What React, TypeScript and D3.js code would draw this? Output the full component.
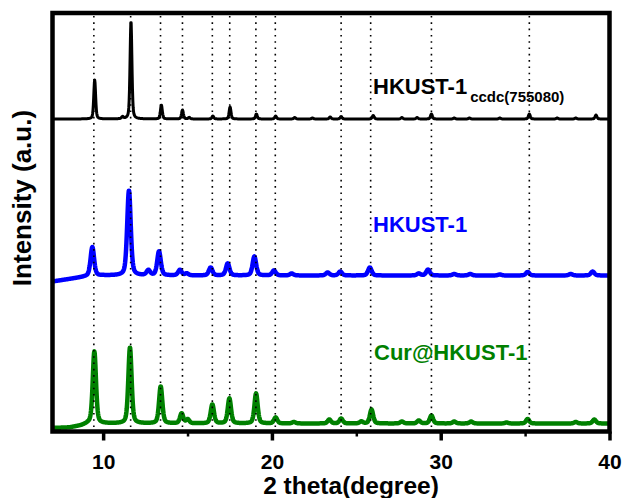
import React, { useRef, useEffect } from 'react';
import * as d3 from 'd3';

const WIDTH = 622;
const HEIGHT = 498;
const margin = { top: 13, right: 12.5, bottom: 66.5, left: 52.5 };
const FONT = 'Liberation Sans, Arial, Helvetica, sans-serif';

// 2θ of the dotted reference lines
const refLines = [9.45, 11.63, 13.4, 14.7, 16.47, 17.5, 19.05, 20.2, 24.1, 25.85, 29.45, 35.25];

const xTicks = [10, 20, 30, 40];
const xMinorTicks = [15, 25, 35];

// peaks: [2θ, height above its baseline (a.u.)]
const simPeaks = [
  [9.5, 39], [11.15, 2], [11.65, 98], [13.45, 14], [14.7, 9], [15.1, 1.5],
  [16.5, 3], [17.52, 12], [19.08, 5], [20.22, 3], [21.35, 1.5], [22.4, 1],
  [23.45, 2], [24.1, 2.5], [26.0, 3.5], [27.7, 1.5], [28.6, 1.5], [29.45, 5],
  [30.8, 1], [31.7, 1], [33.5, 1], [35.25, 5], [36.9, 1], [38.0, 1], [39.2, 4],
];

const hkustPeaks = [
  [9.36, 29], [11.53, 85], [12.68, 5], [13.31, 24], [14.55, 5.5], [14.95, 2],
  [16.37, 8], [17.38, 12], [18.96, 19], [20.12, 5], [21.17, 2], [23.3, 3],
  [24.05, 4], [25.8, 8], [28.7, 2], [29.25, 6], [30.8, 1.5], [31.75, 1.5],
  [33.5, 1], [35.15, 3.5], [37.7, 1.5], [39.0, 4],
];

const curPeaks = [
  [9.48, 72], [11.59, 76], [13.41, 37], [14.65, 10], [15.01, 4], [16.47, 19],
  [17.48, 25], [19.06, 30], [20.22, 6], [21.3, 1.5], [23.4, 4], [24.1, 5],
  [25.3, 2], [25.9, 14], [27.7, 2], [28.7, 3], [29.45, 8], [30.8, 2],
  [31.8, 2], [33.9, 1], [35.15, 4.5], [38.0, 1.5], [39.1, 4],
];

// low-angle background of each pattern: [2θ, offset (a.u.)]
const simBackground = [[7, 0], [40, 0]];
const hkustBackground = [[7, -6], [8, -3.5], [9, -1], [10, 0], [40, 0]];
const curBackground = [[7, -4.5], [8, -4], [8.7, -2], [9.1, 0], [40, 0]];

// stacking offsets (a.u.) and peak widths (FWHM, degrees)
const seriesOffsets = [312.5, 156, 8];
const seriesFwhm = [0.13, 0.25, 0.23];
const seriesColors = ['#000000', '#0000ff', '#008000'];

const pattern = (peaks: number[][], background: number[][], fwhm: number) => {
  const bg = d3.scaleLinear()
    .domain(background.map(d => d[0]))
    .range(background.map(d => d[1]))
    .clamp(true);
  return d3.range(7, 40.001, 0.02).map(t => {
    let y = bg(t);
    peaks.forEach(([p, h]) => {
      const u = (t - p) / (fwhm / 2);
      y += h * (0.6 * Math.exp(-Math.LN2 * u * u) + 0.4 / (1 + u * u));
    });
    return [t, y];
  });
};

export default function App() {
  const svgRef = useRef<SVGSVGElement>(null);

  useEffect(() => {
    const svg = d3.select(svgRef.current);
    svg.selectAll('*').remove();

    const innerW = WIDTH - margin.left - margin.right;
    const innerH = HEIGHT - margin.top - margin.bottom;

    const x = d3.scaleLinear().domain([7, 40]).range([margin.left, margin.left + innerW]);
    const y = d3.scaleLinear().domain([0, innerH]).range([margin.top + innerH, margin.top]);

    svg.append('defs')
      .append('clipPath')
      .attr('id', 'plot-clip')
      .append('rect')
      .attr('x', margin.left)
      .attr('y', margin.top)
      .attr('width', innerW)
      .attr('height', innerH);

    const traces = [
      pattern(simPeaks, simBackground, seriesFwhm[0]),
      pattern(hkustPeaks, hkustBackground, seriesFwhm[1]),
      pattern(curPeaks, curBackground, seriesFwhm[2]),
    ];
    const strokeWidths = [3, 4.5, 4.5];

    const plot = svg.append('g').attr('clip-path', 'url(#plot-clip)');

    traces.forEach((trace, i) => {
      const line = d3.line<number[]>()
        .x(d => x(d[0]))
        .y(d => y(d[1] + seriesOffsets[i]));
      plot.append('path')
        .datum(trace)
        .attr('d', line)
        .attr('fill', 'none')
        .attr('stroke', seriesColors[i])
        .attr('stroke-width', strokeWidths[i])
        .attr('stroke-linejoin', 'round');
    });

    // dotted reference lines
    plot.selectAll('.ref')
      .data(refLines)
      .join('line')
      .attr('class', 'ref')
      .attr('x1', d => x(d))
      .attr('x2', d => x(d))
      .attr('y1', margin.top + 3)
      .attr('y2', margin.top + innerH)
      .attr('stroke', '#000')
      .attr('stroke-width', 1.6)
      .attr('stroke-dasharray', '1.6,4.7');

    // ticks
    const axisY = margin.top + innerH;
    const major = svg.append('g')
      .attr('transform', `translate(0,${axisY})`)
      .call(d3.axisBottom(x).tickValues(xTicks).tickSize(9).tickPadding(13.5).tickFormat(d3.format('d')));
    major.select('.domain').remove();
    major.selectAll('line').attr('stroke-width', 3.5);
    major.selectAll('text')
      .attr('font-family', FONT)
      .attr('font-size', 21)
      .attr('font-weight', 'bold')
      .attr('fill', '#000');

    const minor = svg.append('g')
      .attr('transform', `translate(0,${axisY})`)
      .call(d3.axisBottom(x).tickValues(xMinorTicks).tickSize(5).tickFormat(() => ''));
    minor.select('.domain').remove();
    minor.selectAll('line').attr('stroke-width', 2.5);

    // frame
    svg.append('rect')
      .attr('x', margin.left)
      .attr('y', margin.top)
      .attr('width', innerW)
      .attr('height', innerH)
      .attr('fill', 'none')
      .attr('stroke', '#000')
      .attr('stroke-width', 4.5);

    // sample labels
    const sim = svg.append('text')
      .attr('x', 373)
      .attr('y', 94)
      .attr('font-family', FONT)
      .attr('font-weight', 'bold')
      .attr('font-size', 22)
      .attr('fill', seriesColors[0])
      .text('HKUST-1');
    sim.append('tspan')
      .attr('dx', 3)
      .attr('dy', 8)
      .attr('font-size', 15)
      .text('ccdc(755080)');

    svg.append('text')
      .attr('x', 373)
      .attr('y', 232)
      .attr('font-family', FONT)
      .attr('font-weight', 'bold')
      .attr('font-size', 22)
      .attr('fill', seriesColors[1])
      .text('HKUST-1');

    svg.append('text')
      .attr('x', 374)
      .attr('y', 360)
      .attr('font-family', FONT)
      .attr('font-weight', 'bold')
      .attr('font-size', 22)
      .attr('fill', seriesColors[2])
      .text('Cur@HKUST-1');

    // axis titles
    svg.append('text')
      .attr('x', 351)
      .attr('y', 494)
      .attr('text-anchor', 'middle')
      .attr('font-family', FONT)
      .attr('font-weight', 'bold')
      .attr('font-size', 24.5)
      .text('2 theta(degree)');

    svg.append('text')
      .attr('transform', 'translate(31,198) rotate(-90)')
      .attr('text-anchor', 'middle')
      .attr('font-family', FONT)
      .attr('font-weight', 'bold')
      .attr('font-size', 26)
      .text('Intensity (a.u.)');
  }, []);

  return (
    <svg
      ref={svgRef}
      width={WIDTH}
      height={HEIGHT}
      style={{ position: 'absolute', left: 0, top: 0, background: '#fff' }}
    />
  );
}
